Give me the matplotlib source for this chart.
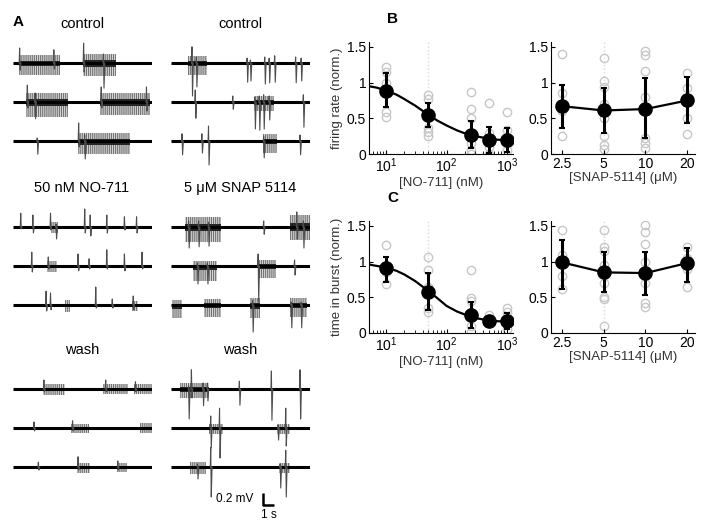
import numpy as np
import matplotlib
matplotlib.use('Agg')
import matplotlib.pyplot as plt
from matplotlib.ticker import NullLocator, FixedLocator, FixedFormatter

plt.rcParams['font.family'] = ['Liberation Sans', 'DejaVu Sans']
plt.rcParams['xtick.direction'] = 'in'
plt.rcParams['ytick.direction'] = 'in'
plt.rcParams['hatch.linewidth'] = 0.8

# ---------------- dose-response data ----------------
no_conc = [10, 50, 250, 500, 1000]
no_fr_mean = [0.89, 0.54, 0.27, 0.20, 0.19]
no_fr_lo = [0.66, 0.38, 0.08, 0.01, 0.03]
no_fr_hi = [1.14, 0.72, 0.46, 0.38, 0.36]
no_tb_mean = [0.91, 0.58, 0.25, 0.17, 0.17]
no_tb_lo = [0.71, 0.32, 0.07, 0.14, 0.06]
no_tb_hi = [1.07, 0.84, 0.43, 0.20, 0.28]

# fitted curves
fit_x = [5.2, 7, 10, 15, 20, 30, 50, 70, 100, 150, 200, 300, 500, 700, 1000]
fit_fr = [0.95, 0.93, 0.89, 0.83, 0.77, 0.68, 0.55, 0.47, 0.40, 0.33, 0.29, 0.25, 0.215, 0.20, 0.195]
fit_tb = [0.96, 0.94, 0.92, 0.87, 0.82, 0.73, 0.59, 0.49, 0.38, 0.30, 0.26, 0.21, 0.175, 0.165, 0.16]

# individual cells (grey circles)
no_fr_pts = {10: [1.22, 1.15, 1.0, 0.59, 0.52],
             50: [0.83, 0.77, 0.5, 0.36, 0.31, 0.25],
             250: [0.87, 0.63, 0.5, 0.3, 0.15, 0.05, 0.0],
             500: [0.72, 0.3, 0.1, 0.0],
             1000: [0.59, 0.34, 0.2, 0.05]}
no_tb_pts = {10: [1.24, 0.95, 0.85, 0.69],
             50: [1.06, 0.88, 0.65, 0.35, 0.29],
             250: [0.89, 0.49, 0.45, 0.3, 0.1, 0.02],
             500: [0.25, 0.2, 0.15],
             1000: [0.35, 0.3, 0.2, 0.05]}

snap_conc = [2.5, 5, 10, 20]
snap_fr_mean = [0.67, 0.61, 0.63, 0.75]
snap_fr_lo = [0.37, 0.30, 0.22, 0.43]
snap_fr_hi = [0.97, 0.92, 1.07, 1.08]
snap_tb_mean = [0.99, 0.85, 0.84, 0.98]
snap_tb_lo = [0.62, 0.57, 0.53, 0.72]
snap_tb_hi = [1.30, 1.13, 1.14, 1.19]

snap_fr_pts = {2.5: [1.40, 0.85, 0.6, 0.25],
               5: [1.35, 1.03, 0.94, 0.7, 0.5, 0.25, 0.13, 0.07],
               10: [1.44, 1.39, 1.17, 0.8, 0.6, 0.23, 0.15, 0.08],
               20: [1.14, 0.93, 0.5, 0.28]}
snap_tb_pts = {2.5: [1.45, 1.1, 0.8, 0.62],
               5: [1.45, 1.2, 1.15, 0.95, 0.7, 0.5, 0.47, 0.1],
               10: [1.52, 1.42, 1.25, 1.0, 0.7, 0.42, 0.37],
               20: [1.2, 1.05, 0.9, 0.64]}

# ---------------- example traces ----------------
# each row: (bursts [(t0, t1, up, down)], spikes [(t, up, down)]) ; t in s, amplitude in mV
control_left = [
    ([(0.5, 4.3, 0.13, 0.2), (6.3, 9.3, 0.15, 0.22)],
     [(0.6, 0.25, 0.12), (3.7, 0.22, 0.1), (6.4, 0.33, 0.15), (8.2, 0.15, 0.42)]),
    ([(1.2, 5.0, 0.15, 0.25), (7.9, 12.4, 0.15, 0.22)],
     [(1.3, 0.28, 0.1), (2.0, 0.15, 0.28), (8.0, 0.25, 0.1), (12.1, 0.25, 0.15)]),
    ([(5.9, 10.6, 0.13, 0.22)],
     [(2.2, 0.05, 0.22), (5.95, 0.3, 0.1), (6.5, 0.1, 0.3)]),
]
control_right = [
    ([(1.5, 3.3, 0.12, 0.2)],
     [(1.9, 0.27, 0.55), (2.3, 0.1, 0.4), (6.9, 0.08, 0.32), (7.2, 0.05, 0.3), (8.5, 0.1, 0.35),
      (8.9, 0.08, 0.33), (9.4, 0.12, 0.32), (11.3, 0.1, 0.33), (11.8, 0.08, 0.3)]),
    ([(7.5, 9.3, 0.1, 0.15)],
     [(2.2, 0.2, 0.27), (5.6, 0.1, 0.12), (7.6, 0.08, 0.45), (8.0, 0.1, 0.47), (8.4, 0.12, 0.45),
      (8.9, 0.1, 0.3), (12.0, 0.12, 0.42)]),
    ([(8.3, 9.6, 0.12, 0.2)],
     [(1.0, 0.12, 0.23), (2.8, 0.12, 0.2), (3.4, 0.25, 0.4), (8.4, 0.08, 0.28), (11.7, 0.1, 0.23)]),
]
no711_left = [
    ([(3.4, 4.1, 0.08, 0.1)],
     [(0.7, 0.23, 0.03), (1.8, 0.2, 0.1), (3.4, 0.23, 0.05), (3.9, 0.05, 0.2), (6.5, 0.3, 0.1),
      (7.0, 0.2, 0.15), (8.5, 0.2, 0.1), (10.1, 0.17, 0.05), (11.2, 0.17, 0.1)]),
    ([(3.1, 4.0, 0.08, 0.1)],
     [(1.7, 0.23, 0.1), (3.2, 0.15, 0.05), (5.9, 0.2, 0.08), (6.9, 0.12, 0.05), (8.5, 0.27, 0.05),
      (10.1, 0.2, 0.08), (11.7, 0.23, 0.05)]),
    ([(4.7, 5.2, 0.08, 0.12), (10.8, 11.3, 0.06, 0.1)],
     [(3.0, 0.23, 0.1), (3.4, 0.2, 0.08), (7.5, 0.3, 0.05), (9.0, 0.1, 0.05), (10.9, 0.15, 0.08)]),
]
snap_right = [
    ([(1.3, 4.5, 0.17, 0.25), (10.8, 12.6, 0.2, 0.22)],
     [(1.6, 0.1, 0.35), (2.5, 0.1, 0.33), (3.4, 0.08, 0.32), (8.4, 0.1, 0.12), (11.4, 0.25, 0.2),
      (12.0, 0.1, 0.35)]),
    ([(2.0, 4.2, 0.08, 0.25), (8.0, 9.5, 0.1, 0.2)],
     [(2.4, 0.05, 0.3), (3.3, 0.05, 0.3), (7.9, 0.2, 0.6), (11.2, 0.1, 0.15)]),
    ([(0.1, 1.0, 0.08, 0.22), (3.0, 4.5, 0.1, 0.2), (7.2, 8.1, 0.12, 0.22), (10.8, 12.3, 0.12, 0.2)],
     [(7.4, 0.08, 0.45), (10.9, 0.05, 0.38), (11.8, 0.05, 0.38)]),
]
wash_left = [
    ([(2.7, 4.7, 0.08, 0.1), (8.2, 10.4, 0.08, 0.08), (11.0, 12.6, 0.08, 0.08)],
     [(2.8, 0.15, 0.05), (8.4, 0.15, 0.05), (11.1, 0.12, 0.05)]),
    ([(5.3, 6.9, 0.07, 0.08), (11.5, 12.6, 0.08, 0.08)],
     [(1.9, 0.1, 0.05), (5.4, 0.12, 0.05)]),
    ([(5.8, 7.0, 0.07, 0.1), (9.4, 10.3, 0.06, 0.08)],
     [(2.3, 0.08, 0.05), (5.9, 0.17, 0.05), (9.5, 0.1, 0.05)]),
]
wash_right = [
    ([(0.8, 3.4, 0.1, 0.15)],
     [(1.6, 0.05, 0.5), (1.85, 0.32, 0.15), (2.9, 0.1, 0.28), (3.3, 0.1, 0.2), (6.2, 0.13, 0.27),
      (9.1, 0.3, 0.52), (11.7, 0.32, 0.5)]),
    ([(3.4, 4.7, 0.06, 0.1), (9.6, 10.8, 0.06, 0.1)],
     [(3.6, 0.2, 0.33), (4.4, 0.33, 0.5), (9.7, 0.05, 0.2), (10.4, 0.33, 0.3)]),
    ([(1.7, 3.2, 0.08, 0.12), (9.8, 10.8, 0.06, 0.1)],
     [(2.4, 0.05, 0.2), (3.6, 0.33, 0.5), (9.9, 0.05, 0.35), (10.4, 0.28, 0.5)]),
]

W, H = 707, 532
fig = plt.figure(figsize=(W / 100, H / 100), dpi=100)


def px_axes(x0, y0, x1, y1):
    return fig.add_axes([x0 / W, 1 - y1 / H, (x1 - x0) / W, (y1 - y0) / H])


t_len = 12.6
row_gap = 0.65


def draw_traces(ax, rows):
    for i, (bursts, spikes) in enumerate(rows):
        off = -i * row_gap
        for (t0, t1, up, dn) in bursts:
            # dense spiking: light envelope with vertical hatching, dark core near baseline
            ax.fill_between([t0, t1], off - dn, off + up, facecolor='0.85',
                            edgecolor='0.45', hatch='||||||||', lw=0)
            ax.fill_between([t0, t1], off - dn * 0.28, off + up * 0.3, color='0.15', lw=0)
        ax.plot([0, t_len], [off, off], color='k', lw=2.2, solid_capstyle='butt')
        for (t, up, dn) in spikes:
            ax.plot([t - 0.04, t, t + 0.05, t + 0.12], [off, off + up, off - dn, off],
                    color='0.3', lw=0.8)
    ax.set_xlim(0, t_len)
    ax.set_ylim(-2.2, 0.5)
    ax.axis('off')


groups = [(control_left, 13, 63, 'control'), (control_right, 171, 63, 'control'),
          (no711_left, 13, 227, '50 nM NO-711'), (snap_right, 171, 227, '5 \u03bcM SNAP 5114'),
          (wash_left, 13, 389, 'wash'), (wash_right, 171, 389, 'wash')]
trace_axes = []
for rows, x0, base, title in groups:
    ax = px_axes(x0, base - 30, x0 + 139, base + 132)
    draw_traces(ax, rows)
    fig.text((x0 + 69) / W, 1 - (base - 39) / H, title, ha='center', va='center', fontsize=10.5)
    trace_axes.append(ax)

# scale bar
ax = trace_axes[-1]
ax.plot([8.36, 8.36, 9.36], [-1.73, -1.93, -1.93], color='k', lw=1.8, solid_capstyle='butt')
ax.text(7.5, -1.83, '0.2 mV', ha='right', va='center', fontsize=8.5)
ax.text(8.9, -2.1, '1 s', ha='center', va='center', fontsize=8.5)

fig.text(18 / W, 1 - 22 / H, 'A', fontsize=11, fontweight='bold', ha='center', va='center')
fig.text(393 / W, 1 - 19 / H, 'B', fontsize=11, fontweight='bold', ha='center', va='center')
fig.text(393 / W, 1 - 198 / H, 'C', fontsize=11, fontweight='bold', ha='center', va='center')


def style(ax, ylabel=None):
    ax.spines['top'].set_visible(False)
    ax.spines['right'].set_visible(False)
    ax.set_ylim(0, 1.57)
    ax.set_yticks([0, 0.5, 1, 1.5])
    ax.set_yticklabels(['0', '0.5', '1', '1.5'])
    ax.tick_params(labelsize=10, length=3, pad=2)
    ax.tick_params(which='minor', length=2)
    if ylabel:
        ax.set_ylabel(ylabel, fontsize=9.5, color='0.2', labelpad=3)


def draw_points(ax, pts):
    for x, ys in pts.items():
        ax.plot([x] * len(ys), ys, 'o', mfc='none', mec='0.78', ms=6, mew=1.0, zorder=1)


def draw_means(ax, x, m, lo, hi):
    m = np.array(m)
    err = [m - np.array(lo), np.array(hi) - m]
    ax.errorbar(x, m, yerr=err, fmt='o', color='k', ms=9.5, elinewidth=2.2,
                capsize=2, capthick=1.5, zorder=3)


for (y0, y1, ylab, mean, lo, hi, fit, pts) in [
        (42, 154, 'firing rate (norm.)', no_fr_mean, no_fr_lo, no_fr_hi, fit_fr, no_fr_pts),
        (221, 333, 'time in burst (norm.)', no_tb_mean, no_tb_lo, no_tb_hi, fit_tb, no_tb_pts)]:
    ax = px_axes(369, y0, 513, y1)
    ax.set_xscale('log')
    ax.axvline(50, color='0.85', ls=':', lw=1, zorder=0)
    draw_points(ax, pts)
    ax.plot(fit_x, fit, color='k', lw=1.6, zorder=2)
    draw_means(ax, no_conc, mean, lo, hi)
    ax.set_xlim(5.2, 1260)
    style(ax, ylab)
    ax.set_xlabel('[NO-711] (nM)', fontsize=9.5, color='0.2', labelpad=1)

for (y0, y1, mean, lo, hi, pts) in [
        (42, 154, snap_fr_mean, snap_fr_lo, snap_fr_hi, snap_fr_pts),
        (221, 333, snap_tb_mean, snap_tb_lo, snap_tb_hi, snap_tb_pts)]:
    ax = px_axes(551, y0, 695, y1)
    ax.set_xscale('log')
    ax.axvline(5, color='0.85', ls=':', lw=1, zorder=0)
    draw_points(ax, pts)
    ax.plot(snap_conc, mean, color='k', lw=1.6, zorder=2)
    draw_means(ax, snap_conc, mean, lo, hi)
    ax.set_xlim(2.08, 22.8)
    ax.xaxis.set_major_locator(FixedLocator(snap_conc))
    ax.xaxis.set_major_formatter(FixedFormatter(['2.5', '5', '10', '20']))
    ax.xaxis.set_minor_locator(NullLocator())
    style(ax)
    ax.set_xlabel('[SNAP-5114] (\u03bcM)', fontsize=9.5, color='0.2', labelpad=1)

fig.savefig('out.png', dpi=100)
